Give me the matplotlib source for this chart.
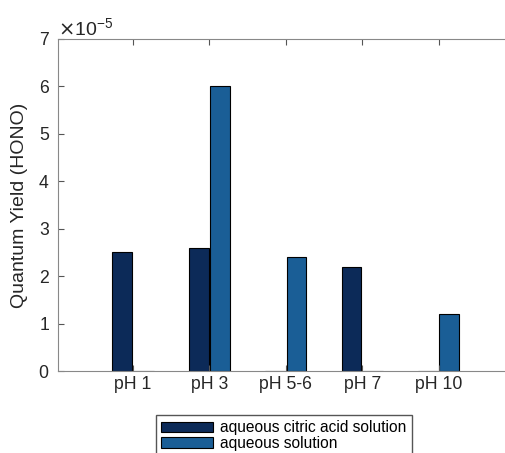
import matplotlib.pyplot as plt
import numpy as np
from matplotlib.ticker import ScalarFormatter

plt.rcParams['font.family'] = ['Liberation Sans', 'DejaVu Sans']
plt.rcParams['axes.formatter.use_mathtext'] = True

categories = ["pH 1", "pH 3", "pH 5-6", "pH 7", "pH 10"]
citric = [2.5e-5, 2.6e-5, 0, 2.2e-5, 0]
aqueous = [0, 6.0e-5, 2.4e-5, 0, 1.2e-5]
series_labels = ["aqueous citric acid solution", "aqueous solution"]

txt = '#262626'
fig = plt.figure(figsize=(5.05, 4.53), dpi=100)
ax = fig.add_axes([0.115, 0.181, 0.905, 0.733])

x = np.arange(1, len(categories) + 1)
w = 0.26
ax.bar(x - 0.14, citric, w, color='#0c2a58', edgecolor='black', linewidth=0.8, label=series_labels[0])
ax.bar(x + 0.14, aqueous, w, color='#1a5e96', edgecolor='black', linewidth=0.8, label=series_labels[1])

ax.set_xlim(0.02, 6)
ax.set_ylim(0, 7e-5)
ax.set_xticks(x)
ax.set_xticklabels(categories)
ax.set_yticks(np.arange(0, 8) * 1e-5)
fmt = ScalarFormatter(useMathText=True)
fmt.set_powerlimits((0, 0))
ax.yaxis.set_major_formatter(fmt)
ax.yaxis.get_offset_text().set_fontsize(14)
ax.yaxis.get_offset_text().set_color(txt)
ax.set_ylabel("Quantum Yield (HONO)", fontsize=14, color=txt)
ax.yaxis.set_label_coords(-0.066, 0.5)

for s in ax.spines.values():
    s.set_color('#888888')
ax.spines['right'].set_visible(False)
ax.tick_params(direction='in', top=True, labelsize=12.7, color='#555555',
               labelcolor=txt, length=4)
ax.tick_params(axis='y', pad=6)

fig.legend(loc='upper left', bbox_to_anchor=(0.309, 0.084), fontsize=11.2,
           fancybox=False, edgecolor='#555555', framealpha=1,
           handlelength=3.3, handleheight=0.7, handletextpad=0.45,
           labelspacing=0.05, borderpad=0.35, borderaxespad=0)

fig.savefig("out.png", dpi=100)
